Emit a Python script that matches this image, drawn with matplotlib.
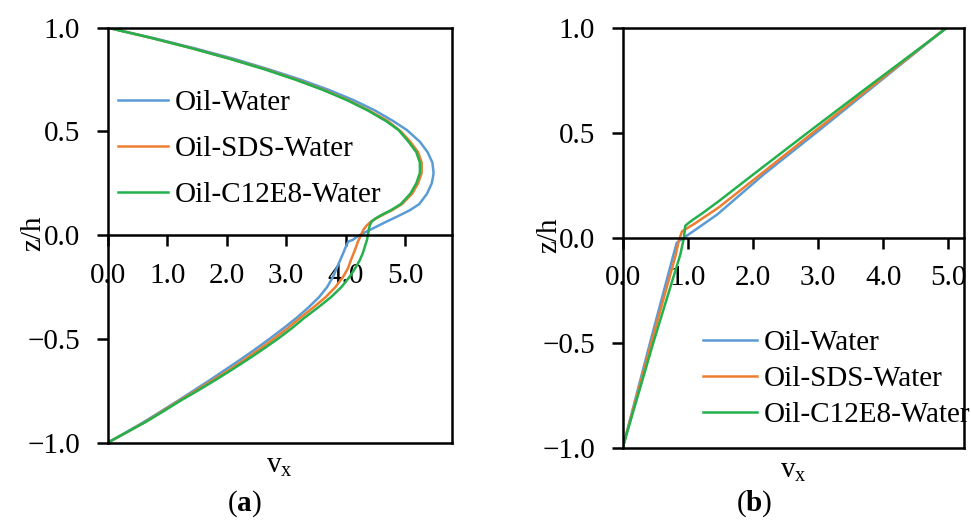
import numpy as np
import matplotlib
matplotlib.use("Agg")
import matplotlib.pyplot as plt

plt.rcParams['font.family'] = ['Liberation Serif', 'DejaVu Serif']
plt.rcParams['mathtext.fontset'] = 'custom'
plt.rcParams['mathtext.rm'] = 'Liberation Serif'
plt.rcParams['mathtext.bf'] = 'Liberation Serif:bold'
plt.rcParams['mathtext.it'] = 'Liberation Serif:italic'
plt.rcParams['font.size'] = 21

labels = ['Oil-Water', 'Oil-SDS-Water', 'Oil-C12E8-Water']
colors = ['#5B9BD5', '#ED7D31', '#22B14C']

x_ticks = [0, 1, 2, 3, 4, 5]
x_ticklabels = ['0.0', '1.0', '2.0', '3.0', '4.0', '5.0']
y_ticks = [-1.0, -0.5, 0.0, 0.5, 1.0]
y_ticklabels = ['\u22121.0', '\u22120.5', '0.0', '0.5', '1.0']

# (a) velocity profiles, z/h vs v_x
z_a_water = [-1.0, -0.95, -0.9, -0.85, -0.8, -0.75, -0.7, -0.65, -0.6, -0.55, -0.5, -0.45, -0.4,
             -0.35, -0.3, -0.25, -0.2, -0.16, -0.12, -0.087, -0.045, -0.03, -0.023, -0.01, 0.01,
             0.034, 0.06, 0.09, 0.12, 0.15, 0.2, 0.25, 0.28, 0.3, 0.35, 0.4, 0.45, 0.507, 0.55,
             0.6, 0.65, 0.7, 0.75, 0.8, 0.85, 0.9, 0.95, 1.0]
v_a_water = [0.0, 0.31, 0.61, 0.89, 1.17, 1.44, 1.71, 1.97, 2.23, 2.48, 2.72, 2.95, 3.17,
             3.37, 3.55, 3.69, 3.79, 3.85, 3.91, 3.96, 4.02, 4.05, 4.12, 4.18, 4.30,
             4.47, 4.65, 4.87, 5.08, 5.24, 5.37, 5.45, 5.47, 5.48, 5.46, 5.38, 5.25, 5.03, 4.80,
             4.50, 4.14, 3.72, 3.24, 2.70, 2.12, 1.47, 0.77, 0.0]

z_a_sds = [-1.0, -0.95, -0.9, -0.85, -0.8, -0.75, -0.7, -0.65, -0.6, -0.55, -0.5, -0.45, -0.4,
           -0.35, -0.3, -0.25, -0.2, -0.16, -0.12, -0.07, -0.03, -0.005, 0.026, 0.045, 0.066,
           0.08, 0.1, 0.12, 0.15, 0.2, 0.25, 0.3, 0.35, 0.4, 0.45, 0.5, 0.55, 0.6, 0.65, 0.7,
           0.75, 0.8, 0.85, 0.9, 0.95, 1.0]
v_a_sds = [0.0, 0.32, 0.63, 0.91, 1.19, 1.48, 1.76, 2.04, 2.30, 2.55, 2.79, 3.02, 3.23,
           3.45, 3.66, 3.83, 3.96, 4.04, 4.09, 4.16, 4.21, 4.25, 4.30, 4.35, 4.43,
           4.51, 4.64, 4.78, 4.95, 5.12, 5.22, 5.28, 5.28, 5.22, 5.09, 4.93, 4.71, 4.40, 4.05, 3.64,
           3.17, 2.65, 2.06, 1.43, 0.74, 0.0]

z_a_c12e8 = [-1.0, -0.95, -0.9, -0.85, -0.8, -0.75, -0.7, -0.65, -0.6, -0.55, -0.5, -0.45, -0.4,
             -0.35, -0.3, -0.25, -0.2, -0.16, -0.12, -0.087, -0.05, -0.023, 0.0, 0.026, 0.05,
             0.066, 0.08, 0.1, 0.12, 0.15, 0.2, 0.25, 0.3, 0.35, 0.4, 0.45, 0.507, 0.55, 0.6,
             0.65, 0.7, 0.75, 0.8, 0.85, 0.9, 0.95, 1.0]
v_a_c12e8 = [0.0, 0.32, 0.64, 0.93, 1.21, 1.51, 1.80, 2.08, 2.35, 2.61, 2.86, 3.09, 3.30,
             3.53, 3.75, 3.93, 4.07, 4.16, 4.24, 4.29, 4.33, 4.36, 4.375, 4.39, 4.41,
             4.44, 4.50, 4.62, 4.76, 4.93, 5.09, 5.19, 5.25, 5.25, 5.19, 5.06, 4.89, 4.68, 4.38,
             4.03, 3.62, 3.15, 2.63, 2.05, 1.42, 0.74, 0.0]

# (b) velocity profiles
z_b_water = [-1.0, -0.5, -0.08, -0.024, 0.0, 0.032, 0.11, 0.3, 0.5, 0.7, 0.9, 1.0]
v_b_water = [0.0, 0.42, 0.78, 0.83, 0.94, 1.09, 1.45, 2.16, 2.97, 3.77, 4.57, 4.97]

z_b_sds = [-1.0, -0.5, -0.087, -0.016, 0.03, 0.064, 0.143, 0.3, 0.5, 0.7, 0.9, 1.0]
v_b_sds = [0.0, 0.44, 0.81, 0.86, 0.91, 1.09, 1.47, 2.11, 2.92, 3.74, 4.56, 4.97]

z_b_c12e8 = [-1.0, -0.5, -0.08, 0.0, 0.056, 0.07, 0.088, 0.12, 0.175, 0.3, 0.5, 0.7, 0.9, 1.0]
v_b_c12e8 = [0.0, 0.47, 0.885, 0.94, 0.96, 1.01, 1.09, 1.24, 1.48, 2.00, 2.84, 3.69, 4.55, 4.98]

LW = 1.8


def style_panel(ax, xmax, legend_anchor, spacing, handle_len):
    ax.set_xlim(0, xmax)
    ax.set_ylim(-1, 1)
    for s in ax.spines.values():
        s.set_linewidth(LW)
    ax.spines['bottom'].set_position(('data', 0))
    ax.axhline(-1, color='k', lw=LW, clip_on=False, zorder=2.5)
    ax.set_xticks(x_ticks)
    ax.set_xticklabels(x_ticklabels)
    ax.set_yticks(y_ticks)
    ax.set_yticklabels(y_ticklabels)
    ax.tick_params(direction='out', length=8, width=LW, pad=12, labelsize=21)
    ax.text(-0.215, 0.505, 'z/h', rotation=90, ha='center', va='center',
            transform=ax.transAxes)
    ax.text(0.5, -0.055, r'$\mathrm{v}_\mathrm{x}$', ha='center', va='center',
            transform=ax.transAxes)
    ax.legend(loc='center left', bbox_to_anchor=legend_anchor, frameon=False,
              borderpad=0, borderaxespad=0, handlelength=handle_len,
              handletextpad=0.24, labelspacing=spacing, fontsize=21)


fig = plt.figure(figsize=(9.71, 5.27), dpi=100)
ax_a = fig.add_axes([0.1109, 0.160, 0.3546, 0.7875])
ax_b = fig.add_axes([0.6413, 0.1505, 0.3515, 0.797])

for v, z, c, lab in zip([v_a_water, v_a_sds, v_a_c12e8], [z_a_water, z_a_sds, z_a_c12e8], colors, labels):
    ax_a.plot(v, z, color=c, lw=1.8, label=lab, solid_joinstyle='round')
for v, z, c, lab in zip([v_b_water, v_b_sds, v_b_c12e8], [z_b_water, z_b_sds, z_b_c12e8], colors, labels):
    ax_b.plot(v, z, color=c, lw=1.8, label=lab, solid_joinstyle='round')

style_panel(ax_a, 5.79, (0.030, 0.708), 0.66, 1.71)
style_panel(ax_b, 5.24, (0.235, 0.164), 0.33, 1.85)

fig.text(244 / 971, 1 - 504 / 527, r'($\mathbf{a}$)', ha='center', va='center')
fig.text(754 / 971, 1 - 504 / 527, r'($\mathbf{b}$)', ha='center', va='center')

fig.savefig('out.png', dpi=100)
